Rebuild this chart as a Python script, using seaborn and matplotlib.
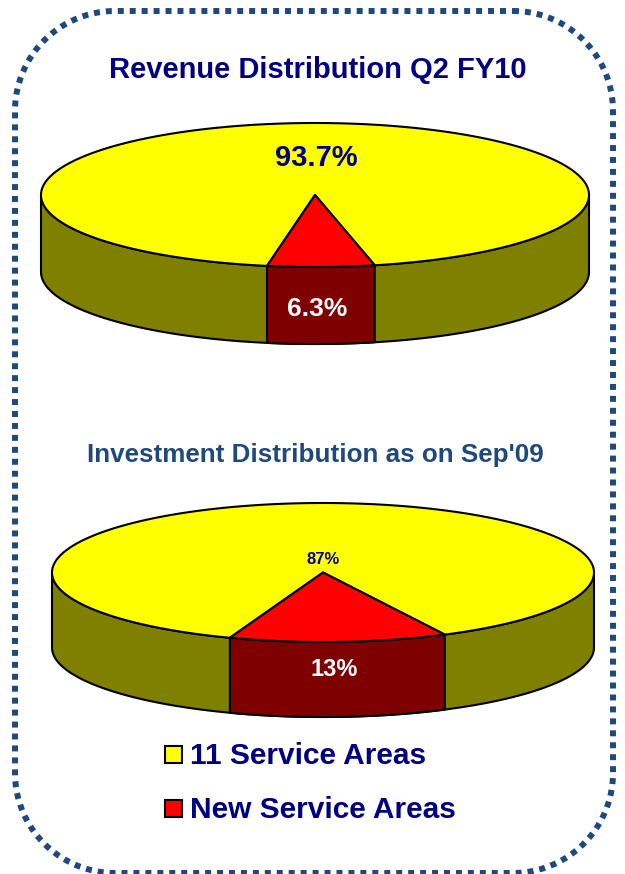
import numpy as np
import pandas as pd
import matplotlib
matplotlib.use("Agg")
import matplotlib.pyplot as plt
from matplotlib.patches import Polygon, Rectangle
import seaborn as sns

titles = ["Revenue Distribution Q2 FY10", "Investment Distribution as on Sep'09"]
categories = ["11 Service Areas", "New Service Areas"]
revenue_shares = [93.7, 6.3]
investment_shares = [87.0, 13.0]
revenue_labels = ["93.7%", "6.3%"]
investment_labels = ["87%", "13%"]

shares = pd.DataFrame({"category": categories, "revenue": revenue_shares, "investment": investment_shares})

sns.set_theme(style="white")
plt.rcParams['font.family'] = ['Liberation Sans', 'DejaVu Sans']

palette = sns.color_palette(["#FFFF00", "#FF0000"])
side_palette = sns.color_palette(["#808000", "#7F0000"])
NAVY = "#000080"
STEEL = "#1F497D"

fig = plt.figure(figsize=(6.25, 8.74), dpi=100)
ax = fig.add_axes([0, 0, 1, 1])
ax.set_xlim(0, 625)
ax.set_ylim(874, 0)
ax.axis("off")


def rounded_outline(x0, y0, x1, y1, r):
    """Outline of a box with circular corners."""
    corners = [(x1 - r, y0 + r, -90), (x1 - r, y1 - r, 0), (x0 + r, y1 - r, 90), (x0 + r, y0 + r, 180)]
    pts = []
    for px, py, a0 in corners:
        t = np.radians(np.linspace(a0, a0 + 90, 40))
        pts.append(np.column_stack([px + r * np.cos(t), py + r * np.sin(t)]))
    return np.vstack(pts)


ax.add_patch(Polygon(rounded_outline(15, 11, 613, 873, 100), closed=True, fc="none", ec=STEEL,
                     lw=4.3, ls=(0, (1, 1)), capstyle="butt"))


def pie3d(cx, cy, a, b, depth, values, offset_deg):
    """Tilted pie: slice of share values[1] centred on the front, shifted by offset_deg."""
    sweep = 2 * np.pi * values[1] / sum(values)
    start = np.radians(offset_deg) - sweep / 2
    end = start + sweep
    pt = lambda t: np.column_stack([cx + a * np.sin(t), cy + b * np.cos(t)])
    edge = dict(ec="black", lw=1.5, joinstyle="round")

    # side walls
    t_all = np.linspace(-np.pi / 2, np.pi / 2, 240)
    arc = pt(t_all)
    ax.add_patch(Polygon(np.vstack([arc, (arc + [0, depth])[::-1]]), fc=side_palette[0], **edge))
    t_sel = np.linspace(start, end, 60)
    arc = pt(t_sel)
    ax.add_patch(Polygon(np.vstack([arc, (arc + [0, depth])[::-1]]), fc=side_palette[1], **edge))

    # top faces
    t_big = np.linspace(end, start + 2 * np.pi, 360)
    ax.add_patch(Polygon(np.vstack([[cx, cy], pt(t_big)]), fc=palette[0], **edge))
    ax.add_patch(Polygon(np.vstack([[cx, cy], pt(t_sel)]), fc=palette[1], **edge))


pie3d(315, 195, 274, 72, 77, shares["revenue"].tolist(), 1.25)
pie3d(323, 572.5, 271, 69.5, 75, shares["investment"].tolist(), 3.3)

ax.text(317.5, 70, titles[0], color=NAVY, fontsize=21, fontweight="bold", ha="center", va="center")
ax.text(315, 455, titles[1], color=STEEL, fontsize=18.7, fontweight="bold", ha="center", va="center")

ax.text(316, 158, revenue_labels[0], color=NAVY, fontsize=21, fontweight="bold", ha="center", va="center")
ax.text(317, 309, revenue_labels[1], color="white", fontsize=19, fontweight="bold", ha="center", va="center")
ax.text(323, 559, investment_labels[0], color=NAVY, fontsize=12, fontweight="bold", ha="center", va="center")
ax.text(334, 670, investment_labels[1], color="white", fontsize=17, fontweight="bold", ha="center", va="center")

for y, label, colour in zip([754.5, 808.5], categories, palette):
    ax.add_patch(Rectangle((165, y - 8.5), 17, 17, fc=colour, ec="black", lw=1.5))
    ax.text(190, y + 2, label, color=NAVY, fontsize=21.5, fontweight="bold", ha="left", va="center")

fig.savefig("out.png", dpi=100, facecolor="white")
